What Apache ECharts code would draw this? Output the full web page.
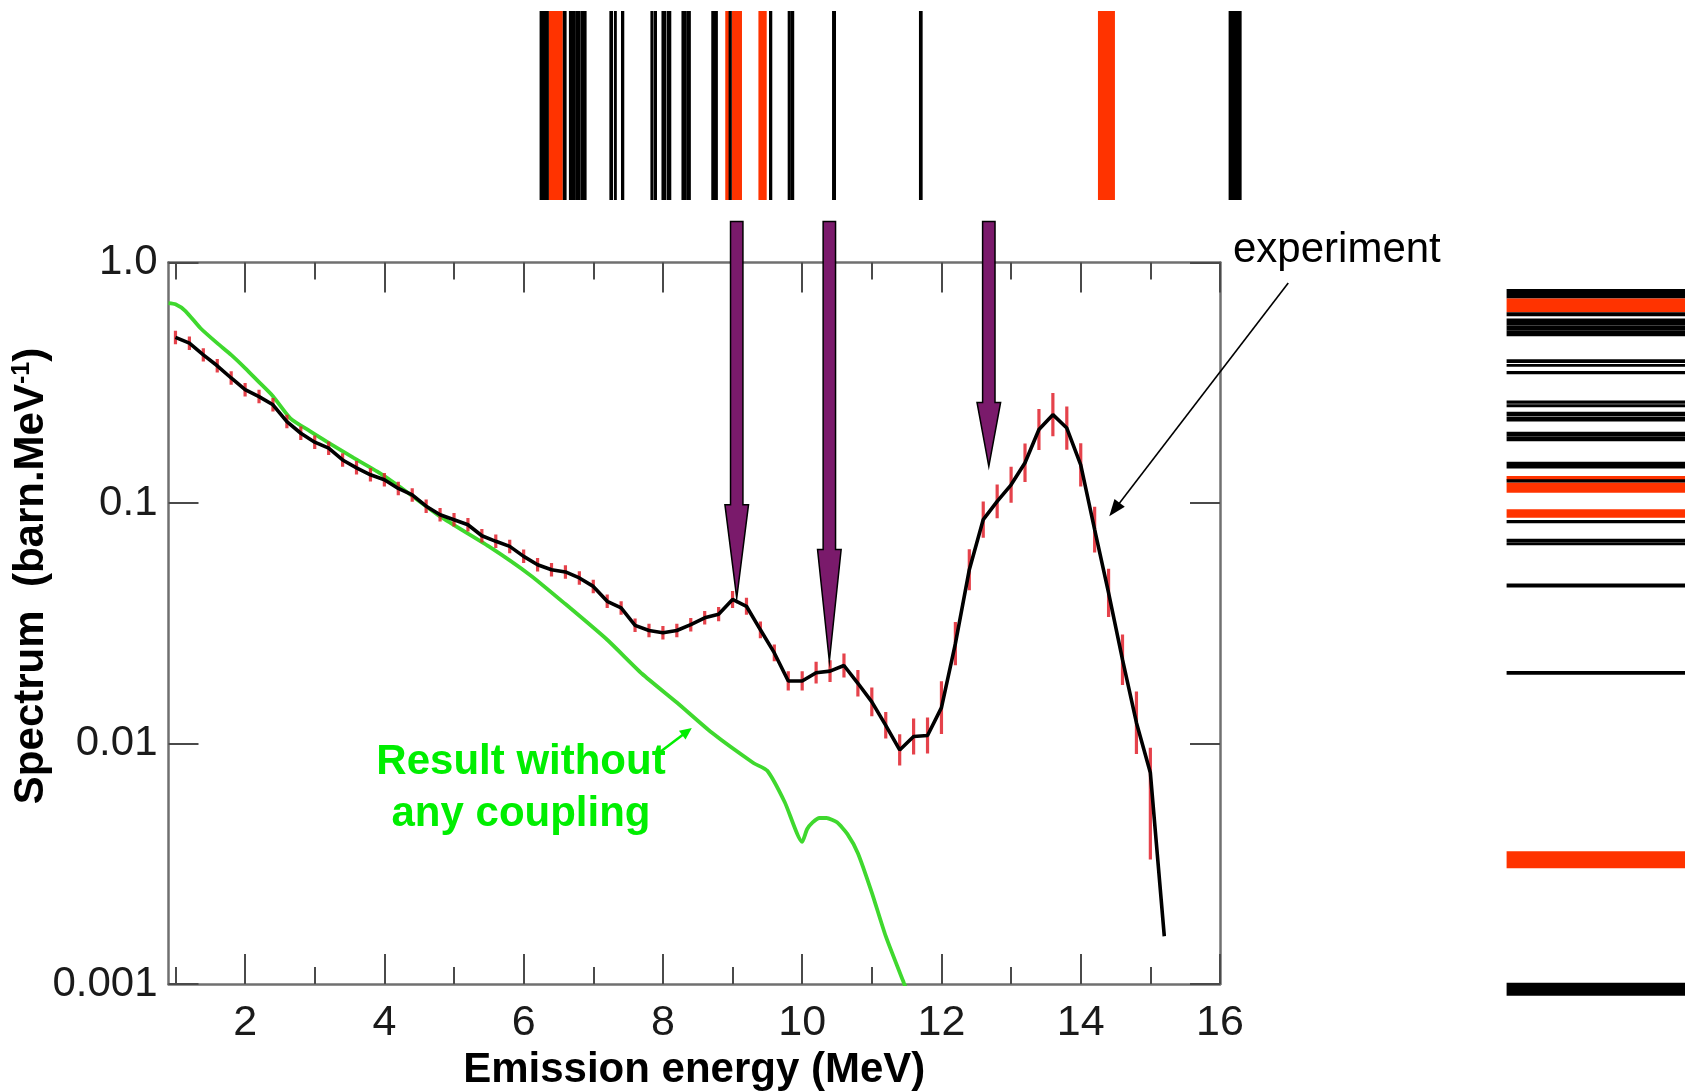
<!DOCTYPE html>
<html>
<head>
<meta charset="utf-8">
<script src="https://cdn.jsdelivr.net/npm/echarts@6/dist/echarts.min.js"></script>
<style>html,body{margin:0;padding:0;background:#fff}#c{width:1685px;height:1091px}</style>
</head>
<body>
<div id="c"></div>
<script>
// ---------------- data ----------------
const energy = [1.0,1.2,1.4,1.6,1.8,2.0,2.2,2.4,2.6,2.8,3.0,3.2,3.4,3.6,3.8,4.0,
  4.2,4.4,4.6,4.8,5.0,5.2,5.4,5.6,5.8,6.0,6.2,6.4,6.6,6.8,7.0,7.2,7.4,7.6,7.8,8.0,
  8.2,8.4,8.6,8.8,9.0,9.2,9.4,9.6,9.8,10.0,10.2,10.4,10.6,10.8,11.0,11.2,11.4,11.6,11.8,12.0,
  12.2,12.4,12.6,12.8,13.0,13.2,13.4,13.6,13.8,14.0,14.2,14.4,14.6,14.8,15.0,15.2];
const spectrum = [0.488,0.462,0.413,0.372,0.331,0.296,0.277,0.256,0.218,0.195,0.179,0.169,0.151,0.140,0.131,0.125,
  0.115,0.108,0.097,0.0894,0.0852,0.0812,0.0731,0.0693,0.066,0.060,0.0554,0.0528,0.0517,0.0488,0.045,0.039,0.0366,0.031,0.0295,0.0289,
  0.0295,0.0312,0.0333,0.0345,0.0397,0.0372,0.0297,0.0238,0.0182,0.0182,0.0197,0.0200,0.0211,0.0178,0.0149,0.0119,0.0094,0.0107,0.0108,0.0141,
  0.026,0.0528,0.0853,0.1016,0.119,0.147,0.202,0.233,0.205,0.144,0.0775,0.0423,0.0223,0.0122,0.00755,0.00158];
// error bar half-lengths in decades (upper / lower)
const errHiDex = [0.028,0.028,0.028,0.028,0.028,0.028,0.028,0.028,0.028,0.028,0.028,0.028,0.028,0.028,0.028,0.028,
  0.028,0.028,0.028,0.028,0.028,0.028,0.028,0.028,0.028,0.028,0.028,0.028,0.028,0.028,0.028,0.028,0.028,0.028,0.028,0.028,
  0.028,0.028,0.028,0.03,0.035,0.035,0.035,0.035,0.04,0.04,0.045,0.045,0.05,0.055,0.06,0.055,0.065,0.075,0.075,0.11,
  0.09,0.085,0.075,0.07,0.075,0.08,0.085,0.09,0.09,0.09,0.095,0.10,0.105,0.13,0.104,0];
const errLoDex = [0.028,0.028,0.028,0.028,0.028,0.028,0.028,0.028,0.028,0.028,0.028,0.028,0.028,0.028,0.028,0.028,
  0.028,0.028,0.028,0.028,0.028,0.028,0.028,0.028,0.028,0.028,0.028,0.028,0.028,0.028,0.028,0.028,0.028,0.028,0.028,0.028,
  0.028,0.028,0.028,0.03,0.035,0.035,0.035,0.035,0.04,0.04,0.045,0.045,0.05,0.055,0.06,0.055,0.065,0.075,0.075,0.11,
  0.09,0.085,0.075,0.07,0.075,0.08,0.085,0.09,0.09,0.09,0.095,0.10,0.105,0.13,0.36,0];
// calculation without any coupling (green)
const noCouplingE = [0.9,1.0,1.14,1.36,1.6,1.8,2.0,2.2,2.4,2.65,2.93,3.2,3.56,3.9,4.2,4.8,5.5,6.1,6.6,7.2,7.7,8.2,8.7,
  9.3,9.5,9.75,10.0,10.07,10.15,10.25,10.35,10.5,10.65,10.8,11.0,11.2,11.46,11.6];
const noCouplingV = [0.678,0.67,0.63,0.533,0.462,0.413,0.364,0.318,0.278,0.225,0.199,0.178,0.154,0.135,0.118,0.088,0.066,0.050,0.038,0.027,0.0195,0.0148,0.0111,
  0.0083,0.0077,0.0057,0.0039,0.0044,0.0047,0.0049,0.0049,0.0047,0.0042,0.0035,0.0024,0.00158,0.00101,0.0008];
// axis ticks
const xMajorTicks = [2,4,6,8,10,12,14,16];
const xMinorTicks = [1,3,5,7,9,11,13,15];
const yTickValues = [0.001,0.01,0.1,1];
const yTickLabels = ['0.001','0.01','0.1','1.0'];
// level scheme bands (energy ranges in MeV, colour type 0 = black, 1 = red)
const levelStart = [6.231,6.365,6.564,6.652,6.752,6.818,7.233,7.299,7.400,7.822,7.874,7.981,8.055,8.268,8.336,8.696,8.897,8.991,8.945,9.373,9.525,9.793,9.841,10.430,11.678,14.248,16.124];
const levelEnd   = [6.365,6.564,6.619,6.752,6.818,6.906,7.286,7.340,7.447,7.868,7.917,8.049,8.122,8.336,8.403,8.791,8.958,9.137,8.991,9.492,9.572,9.839,9.887,10.487,11.731,14.492,16.311];
const levelType  = [0,1,0,0,0,0,0,0,0,0,0,0,0,0,0,0,1,1,0,1,0,0,0,0,0,1,0];
// purple arrows: energy, tip value, head-base value, top value
const arrowE    = [9.06,10.39,12.68];
const arrowTip  = [0.0403,0.022,0.142];
const arrowBase = [0.0984,0.064,0.262];
const arrowTop  = [1.48,1.48,1.48];

// ---------------- styles ----------------
const FONT = '"Liberation Sans", Arial, Helvetica, sans-serif';
const AXIS_COLOR = '#707070';
const TICK_COLOR = '#4a4a4a';
const LEVEL_COLORS = ['#000000','#ff3300'];
const PURPLE = '#7a1a6b';
const GREEN_LINE = '#3fd82e';
const GREEN_TEXT = '#00ee00';

const chart = echarts.init(document.getElementById('c'), null, {renderer:'canvas'});

const xBase = {type:'value', min:0.9, max:16, gridIndex:0, splitLine:{show:false}};
function xAxisCfg(pos, major, extra){
  return Object.assign({}, xBase, {
    position: pos,
    axisLine: {show: major, onZero:false, lineStyle:{color:AXIS_COLOR, width:2.5}},
    axisTick: {show:true, inside:true, length: major ? 30 : 17, customValues: major ? xMajorTicks : xMinorTicks,
               lineStyle:{color:TICK_COLOR, width:2}},
    axisLabel: {show:false}
  }, extra || {});
}

const option = {
  animation: false,
  backgroundColor: '#ffffff',
  grid: [
    {left:168.5, right:465, top:262.5, bottom:107, containLabel:false, outerBoundsMode:'none'},
    {left:523.5, width:731.3, top:11, height:189, outerBoundsMode:'none'},
    {left:1506.6, right:0, top:272.8, height:736.3, outerBoundsMode:'none'}
  ],
  xAxis: [
    xAxisCfg('bottom', true, {
      axisLabel:{show:true, customValues:xMajorTicks, fontSize:43, color:'#1a1a1a', margin:18, fontFamily:FONT},
      name:'Emission energy (MeV)', nameLocation:'middle', nameGap:65,
      nameTextStyle:{fontSize:42, fontWeight:'bold', color:'#000', fontFamily:FONT}
    }),
    xAxisCfg('bottom', false),
    xAxisCfg('top', true),
    xAxisCfg('top', false),
    {type:'value', gridIndex:1, min:6, max:16.5, show:false},
    {type:'value', gridIndex:2, min:0, max:1, show:false}
  ],
  yAxis: [
    {type:'log', logBase:10, gridIndex:0, min:0.001, max:1, position:'left',
     axisLine:{show:true, onZero:false, lineStyle:{color:AXIS_COLOR, width:2.5}},
     axisTick:{show:true, inside:true, length:30, lineStyle:{color:TICK_COLOR, width:2}},
     minorTick:{show:false}, splitLine:{show:false},
     axisLabel:{show:true, fontSize:42, color:'#1a1a1a', margin:11, fontFamily:FONT,
       formatter: v => yTickLabels[Math.round(Math.log10(v)) + 3]}},
    {type:'log', logBase:10, gridIndex:0, min:0.001, max:1, position:'right',
     axisLine:{show:true, onZero:false, lineStyle:{color:AXIS_COLOR, width:2.5}},
     axisTick:{show:true, inside:true, length:30, lineStyle:{color:TICK_COLOR, width:2}},
     minorTick:{show:false}, splitLine:{show:false}, axisLabel:{show:false}},
    {type:'value', gridIndex:1, min:0, max:1, show:false},
    {type:'value', gridIndex:2, min:6, max:16.5, inverse:true, show:false}
  ],
  series: [
    {
      name:'no coupling', type:'line', xAxisIndex:0, yAxisIndex:0,
      data: noCouplingE.map((e,i)=>[e, noCouplingV[i]]),
      showSymbol:false, clip:true, z:2, smooth:0.2,
      lineStyle:{color:GREEN_LINE, width:3.8}
    },
    {
      name:'errors', type:'custom', xAxisIndex:0, yAxisIndex:0, z:3, clip:true,
      data: energy.map((e,i)=>[e, spectrum[i]*Math.pow(10,-errLoDex[i]), spectrum[i]*Math.pow(10,errHiDex[i])]),
      renderItem: (params, api) => {
        const a = api.coord([api.value(0), api.value(1)]);
        const b = api.coord([api.value(0), api.value(2)]);
        return {type:'line', shape:{x1:a[0], y1:a[1], x2:b[0], y2:b[1]},
                style:{stroke:'#e0212b', lineWidth:3.2, opacity:0.85}};
      }
    },
    {
      name:'experiment', type:'line', xAxisIndex:0, yAxisIndex:0,
      data: energy.map((e,i)=>[e, spectrum[i]]),
      showSymbol:false, clip:true, z:4,
      lineStyle:{color:'#000', width:3.6}
    },
    {
      name:'arrows', type:'custom', xAxisIndex:0, yAxisIndex:0, z:6, clip:false,
      data: arrowE.map((e,i)=>[e, arrowTip[i], arrowBase[i], arrowTop[i]]),
      renderItem: (params, api) => {
        const e = api.value(0);
        const tip = api.coord([e, api.value(1)]);
        const base = api.coord([e, api.value(2)]);
        const top = api.coord([e, api.value(3)]);
        const x = tip[0], sw = 6.2, hw = 11.8;
        return {type:'polygon', shape:{points:[
          [x-sw, top[1]], [x+sw, top[1]], [x+sw, base[1]], [x+hw, base[1]],
          [x, tip[1]], [x-hw, base[1]], [x-sw, base[1]]]},
          style:{fill:PURPLE, stroke:'#000', lineWidth:1.5}};
      }
    },
    {
      name:'levels top', type:'custom', xAxisIndex:4, yAxisIndex:2, z:2, clip:false,
      data: levelStart.map((s,i)=>({value:[s, levelEnd[i]], itemStyle:{color:LEVEL_COLORS[levelType[i]]}})),
      renderItem: (params, api) => {
        const p0 = api.coord([api.value(0), 1]);
        const p1 = api.coord([api.value(1), 0]);
        return {type:'rect', shape:{x:p0[0], y:p0[1], width:p1[0]-p0[0], height:p1[1]-p0[1]},
                style:{fill:api.visual('color')}};
      }
    },
    {
      name:'levels right', type:'custom', xAxisIndex:5, yAxisIndex:3, z:2, clip:false,
      data: levelStart.map((s,i)=>({value:[s, levelEnd[i]], itemStyle:{color:LEVEL_COLORS[levelType[i]]}})),
      renderItem: (params, api) => {
        const p0 = api.coord([0, api.value(0)]);
        const p1 = api.coord([1, api.value(1)]);
        return {type:'rect', shape:{x:p0[0], y:p0[1], width:p1[0]-p0[0], height:p1[1]-p0[1]},
                style:{fill:api.visual('color')}};
      }
    }
  ]
};
chart.setOption(option);

// ---------------- annotations ----------------
const px = (e, v) => chart.convertToPixel({xAxisIndex:0, yAxisIndex:0}, [e, v]);
function arrowGraphic(from, to, color, lw, headLen, headW){
  const dx = to[0]-from[0], dy = to[1]-from[1];
  const L = Math.sqrt(dx*dx+dy*dy), ux = dx/L, uy = dy/L;
  const bx = to[0]-ux*headLen, by = to[1]-uy*headLen;
  return [
    {type:'line', shape:{x1:from[0], y1:from[1], x2:bx+ux*2, y2:by+uy*2}, style:{stroke:color, lineWidth:lw}, z:10},
    {type:'polygon', shape:{points:[[to[0],to[1]],[bx - uy*headW/2, by + ux*headW/2],[bx + uy*headW/2, by - ux*headW/2]]},
     style:{fill:color}, z:10}
  ];
}
const expFrom = px(16.98, 0.821), expTo = px(14.41, 0.088);
const greenFrom = px(7.94, 0.00914), greenTo = px(8.415, 0.0116);

chart.setOption({
  graphic: [
    ...arrowGraphic(expFrom, expTo, '#000', 1.6, 17, 13),
    ...arrowGraphic(greenFrom, greenTo, GREEN_TEXT, 2.5, 12, 11),
    {type:'text', x:1233, y:250, z:10,
     style:{text:'experiment', font:'42px ' + FONT, fill:'#000', align:'left', verticalAlign:'middle'}},
    {type:'text', x:521, y:788, z:10,
     style:{text:'Result without\nany coupling', font:'bold 42px ' + FONT, fill:GREEN_TEXT,
            align:'center', verticalAlign:'middle', lineHeight:52}},
    {type:'text', x:31, y:576, rotation:Math.PI/2, z:10,
     style:{text:'{a|Spectrum  (barn.MeV}{s|-1}{a|)}', align:'center', verticalAlign:'middle',
            rich:{a:{font:'bold 42px ' + FONT, fill:'#000'},
                  s:{font:'bold 25px ' + FONT, fill:'#000', verticalAlign:'top', padding:[0,0,14,0]}}}}
  ]
});
</script>
</body>
</html>
